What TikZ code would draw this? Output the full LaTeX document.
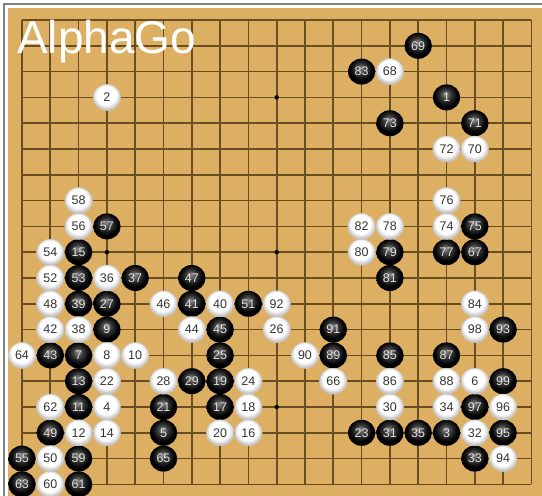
\documentclass[tikz,border=0pt]{standalone}
\usepackage{fontspec}
\setmainfont{Liberation Sans}
\usetikzlibrary{shapes.geometric}
\definecolor{boardwood}{RGB}{221,175,98}
\definecolor{gridbrown}{RGB}{105,78,36}
\definecolor{framegray}{RGB}{130,130,130}
\pgfdeclareradialshading{bstoneshade}{\pgfpoint{-2bp}{7bp}}{color(0bp)=(black!45); color(10bp)=(black!78); color(21bp)=(black); color(50bp)=(black)}
\pgfdeclareradialshading{wstoneshade}{\pgfpoint{-2bp}{6bp}}{color(0bp)=(white); color(18bp)=(white); color(26bp)=(black!25); color(50bp)=(black!25)}
\tikzset{
  gstone/.style={ellipse, minimum width=27.5pt, minimum height=26pt, inner sep=0pt,
                 font=\fontsize{12.5}{12.5}\selectfont},
  gblack/.style={gstone, shading=bstoneshade, text=white!88!black},
  gwhite/.style={gstone, shading=wstoneshade, draw=black!20, line width=0.4pt, text=black!80},
  ggrid/.style={line width=1.7pt, gridbrown},
  gstar/.style={circle, fill=black, minimum size=4.5pt, inner sep=0pt},
  gtitle/.style={white, font=\fontsize{46}{46}\selectfont, anchor=base west, inner sep=0pt},
}

\begin{document}
\begin{tikzpicture}[x=1pt, y=-1pt]
  \useasboundingbox (0,0) rectangle (542,496);
  \fill[white] (0,0) rectangle (542,496);
  \draw[framegray, line width=1.2pt] (4,496) -- (4,4) -- (542,4);
  \fill[boardwood] (8,8) rectangle (542,496);
  % grid
  \foreach \i in {0,...,18} {
    \draw[ggrid] ({22+28.3*\i},20) -- ({22+28.3*\i},484.4);
    \draw[ggrid] (22,{20+25.8*\i}) -- (531.4,{20+25.8*\i});
  }
  \foreach \c in {3,9,15}
    \foreach \r in {3,9,15}
      \node[gstar] (h\c\r) at ({22+28.3*\c},{20+25.8*\r}) {};
  \node[gtitle] (title) at (17,53) {AlphaGo};
  % black stones
  \foreach \n/\c/\r in {1/15/3, 3/15/16, 5/5/16, 7/2/13, 9/3/12, 11/2/15, 13/2/14, 15/2/9,
      17/7/15, 19/7/14, 21/5/15, 23/12/16, 25/7/13, 27/3/11, 29/6/14, 31/13/16, 33/16/17,
      35/14/16, 37/4/10, 39/2/11, 41/6/11, 43/1/13, 45/7/12, 47/6/10, 49/1/16, 51/8/11,
      53/2/10, 55/0/17, 57/3/8, 59/2/17, 61/2/18, 63/0/18, 65/5/17, 67/16/9, 69/14/1,
      71/16/4, 73/13/4, 75/16/8, 77/15/9, 79/13/9, 81/13/10, 83/12/2, 85/13/13, 87/15/13,
      89/11/13, 91/11/12, 93/17/12, 95/17/16, 97/16/15, 99/17/14}
    \node[gblack] (s\n) at ({22+28.3*\c},{20+25.8*\r}) {\n};
  % white stones
  \foreach \n/\c/\r in {2/3/3, 4/3/15, 6/16/14, 8/3/13, 10/4/13, 12/2/16, 14/3/16, 16/8/16,
      18/8/15, 20/7/16, 22/3/14, 24/8/14, 26/9/12, 28/5/14, 30/13/15, 32/16/16, 34/15/15,
      36/3/10, 38/2/12, 40/7/11, 42/1/12, 44/6/12, 46/5/11, 48/1/11, 50/1/17, 52/1/10,
      54/1/9, 56/2/8, 58/2/7, 60/1/18, 62/1/15, 64/0/13, 66/11/14, 68/13/2, 70/16/5,
      72/15/5, 74/15/8, 76/15/7, 78/13/8, 80/12/9, 82/12/8, 84/16/11, 86/13/14, 88/15/14,
      90/10/13, 92/9/11, 94/17/17, 96/17/15, 98/16/12}
    \node[gwhite] (s\n) at ({22+28.3*\c},{20+25.8*\r}) {\n};
\end{tikzpicture}
\end{document}
